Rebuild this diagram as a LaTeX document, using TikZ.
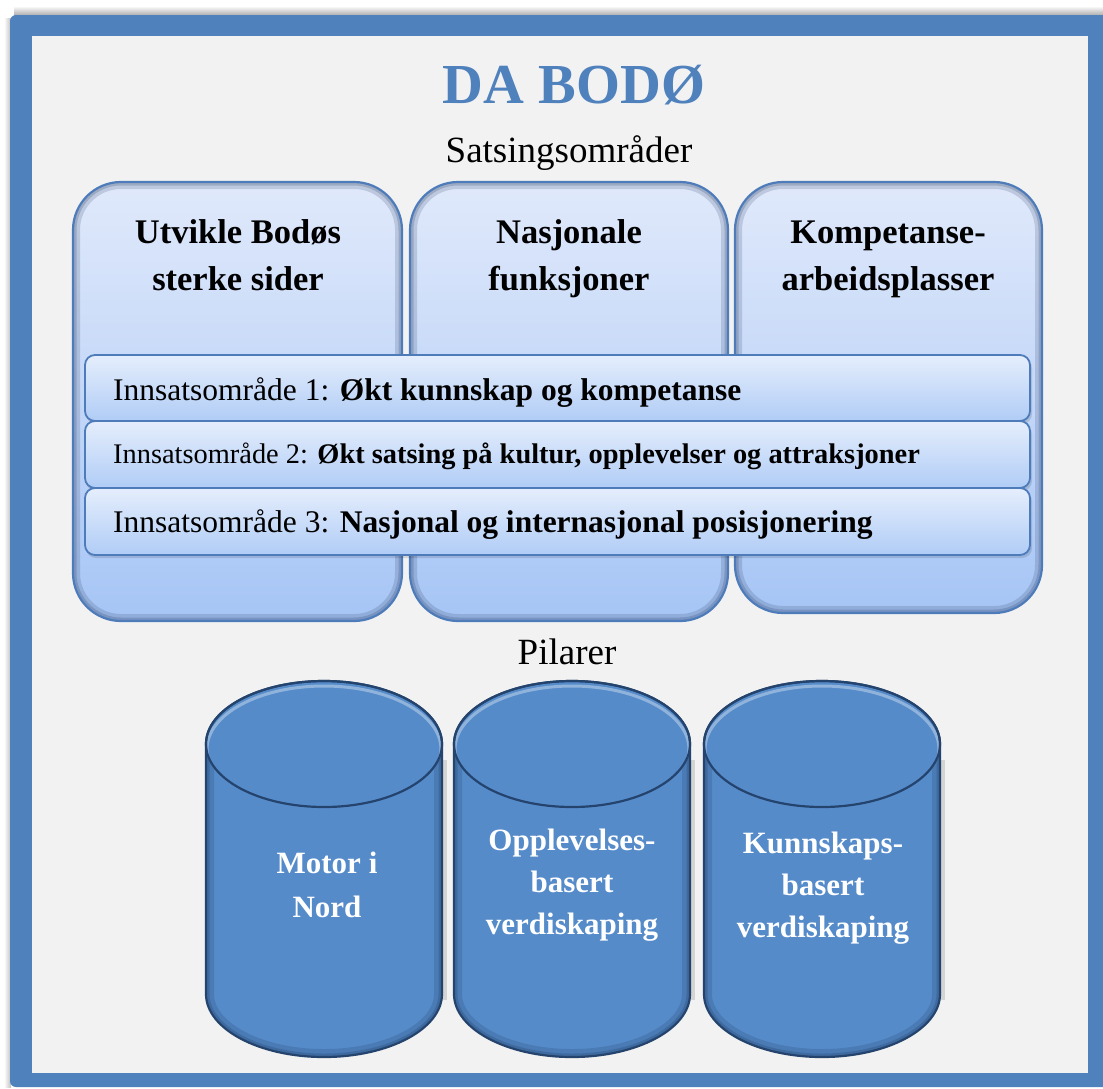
\documentclass[tikz,border=0pt]{standalone}
\usepackage{fontspec}
\setmainfont{Liberation Serif}
\definecolor{frameblue}{RGB}{79,129,189}
\definecolor{bgray}{RGB}{242,242,242}
\definecolor{boxtop}{RGB}{224,233,251}
\definecolor{boxbot}{RGB}{166,197,245}
\definecolor{boxline}{RGB}{78,124,186}
\definecolor{boxshade}{RGB}{40,60,100}
\definecolor{striptop}{RGB}{229,238,252}
\definecolor{stripbot}{RGB}{176,204,246}
\definecolor{cylfill}{RGB}{86,139,202}
\definecolor{cylline}{RGB}{36,68,110}
\definecolor{titleblue}{RGB}{79,129,189}

\newcommand\areabox[4]{%
  \fill[top color=boxtop, bottom color=boxbot, rounded corners=48] (#1,#2) rectangle (#3,#4);
  \begin{scope}
    \clip[rounded corners=48] (#1,#2) rectangle (#3,#4);
    \draw[rounded corners=48, boxshade, opacity=.18, line width=14] (#1,#2) rectangle (#3,#4);
    \draw[rounded corners=48, boxshade, opacity=.22, line width=7] (#1,#2) rectangle (#3,#4);
  \end{scope}
  \draw[rounded corners=48, boxline, line width=2.2] (#1,#2) rectangle (#3,#4);
}
\newcommand\stripbox[2]{%
  \fill[black, opacity=.12, rounded corners=10] (86,#1+3) rectangle (1032,#2+3);
  \fill[top color=striptop, bottom color=stripbot, rounded corners=10] (85,#1) rectangle (1030,#2);
  \draw[rounded corners=10, boxline, line width=1.8] (85,#1) rectangle (1030,#2);
}
\newcommand\pillar[1]{%
  \pgfmathsetmacro\xl{#1-118}\pgfmathsetmacro\xr{#1+118}%
  \pgfmathsetmacro\xa{#1-65.2}\pgfmathsetmacro\xb{#1+65.2}%
  \fill[black, opacity=.12] (\xr-2,760) rectangle (\xr+5,1000);
  \fill[cylfill] (\xl,744) -- (\xl,994) .. controls (\xl,1028.8) and (\xa,1057) .. (#1,1057)
     .. controls (\xb,1057) and (\xr,1028.8) .. (\xr,994) -- (\xr,744)
     .. controls (\xr,709.2) and (\xb,681) .. (#1,681)
     .. controls (\xa,681) and (\xl,709.2) .. (\xl,744) -- cycle;
  \begin{scope}
    \clip (\xl,744) -- (\xl,994) .. controls (\xl,1028.8) and (\xa,1057) .. (#1,1057)
     .. controls (\xb,1057) and (\xr,1028.8) .. (\xr,994) -- (\xr,744)
     .. controls (\xr,709.2) and (\xb,681) .. (#1,681)
     .. controls (\xa,681) and (\xl,709.2) .. (\xl,744) -- cycle;
    \draw[cylline, opacity=.22, line width=16] (\xl,744) -- (\xl,994) .. controls (\xl,1028.8) and (\xa,1057) .. (#1,1057)
     .. controls (\xb,1057) and (\xr,1028.8) .. (\xr,994) -- (\xr,744);
    \draw[cylline, opacity=.3, line width=7] (\xl,744) -- (\xl,994) .. controls (\xl,1028.8) and (\xa,1057) .. (#1,1057)
     .. controls (\xb,1057) and (\xr,1028.8) .. (\xr,994) -- (\xr,744);
  \end{scope}
  \fill[cylfill] (#1,744) ellipse [x radius=118, y radius=63];
  \begin{scope}
    \clip (#1,744) ellipse [x radius=118, y radius=63];
    \draw[white, opacity=.35, line width=3] (#1,749) ellipse [x radius=117, y radius=63];
  \end{scope}
  \draw[cylline, line width=2.2] (\xl,744) -- (\xl,994) .. controls (\xl,1028.8) and (\xa,1057) .. (#1,1057)
     .. controls (\xb,1057) and (\xr,1028.8) .. (\xr,994) -- (\xr,744)
     .. controls (\xr,709.2) and (\xb,681) .. (#1,681)
     .. controls (\xa,681) and (\xl,709.2) .. (\xl,744) -- cycle;
  \draw[cylline, line width=2.2] (#1,744) ellipse [x radius=118, y radius=63];
}

\begin{document}
\begin{tikzpicture}[x=1pt,y=-1pt,
  boxlabel/.style={anchor=base, align=center, inner sep=0pt, text=black,
    font=\fontsize{34.5}{47}\selectfont\bfseries},
  striplabel/.style={anchor=base west, inner sep=0pt, text=black},
  pillarlabel/.style={anchor=base, align=center, inner sep=0pt, text=white,
    font=\fontsize{31}{42}\selectfont\bfseries},
  heading/.style={anchor=base, inner sep=0pt, text=black,
    font=\fontsize{37}{44}\selectfont}]
\useasboundingbox (0,0) rectangle (1103,1088);
\fill[white] (0,0) rectangle (1103,1088);
% outer frame with top shadow
\shade[top color=white, bottom color=black!35] (14,6) rectangle (1103,16);
\shade[left color=white, right color=black!25] (4,18) rectangle (11,1087);
\fill[frameblue, rounded corners=6] (10,15) rectangle (1110,1087);
\fill[bgray] (32,36) rectangle (1088,1073);

% title
\node[anchor=base, inner sep=0pt, text=titleblue, font=\fontsize{56.5}{60}\selectfont\bfseries] (title) at (574,103) {DA BODØ};
\node[heading] (sats) at (569,162) {Satsingsområder};

% three areas
\areabox{73}{182}{402}{621}
\areabox{410}{182}{728}{621}
\areabox{735}{182}{1042}{613}
\node[boxlabel] (area1) at (238,290) {Utvikle Bodøs\\sterke sider};
\node[boxlabel] (area2) at (569,290) {Nasjonale\\funksjoner};
\node[boxlabel] (area3) at (888,290) {Kompetanse-\\arbeidsplasser};

% strips
\stripbox{355}{421}
\stripbox{421}{488}
\stripbox{488}{555}
\node[striplabel, font=\fontsize{31.5}{36}\selectfont] (inn1) at (113,400) {Innsatsområde 1: \textbf{Økt kunnskap og kompetanse}};
\node[striplabel, font=\fontsize{28.4}{34}\selectfont] (inn2) at (113,463) {Innsatsområde 2: \textbf{Økt satsing på kultur, opplevelser og attraksjoner}};
\node[striplabel, font=\fontsize{31.5}{36}\selectfont] (inn3) at (113,532) {Innsatsområde 3: \textbf{Nasjonal og internasjonal posisjonering}};

% pillars
\node[heading] (pil) at (567,664) {Pilarer};
\pillar{324}
\pillar{572}
\pillar{822}
\node[pillarlabel, font=\fontsize{31}{44}\selectfont\bfseries] (p1) at (327,917) {Motor i\\Nord};
\node[pillarlabel] (p2) at (572,934) {Opplevelses-\\basert\\verdiskaping};
\node[pillarlabel] (p3) at (823,937) {Kunnskaps-\\basert\\verdiskaping};
\end{tikzpicture}
\end{document}
